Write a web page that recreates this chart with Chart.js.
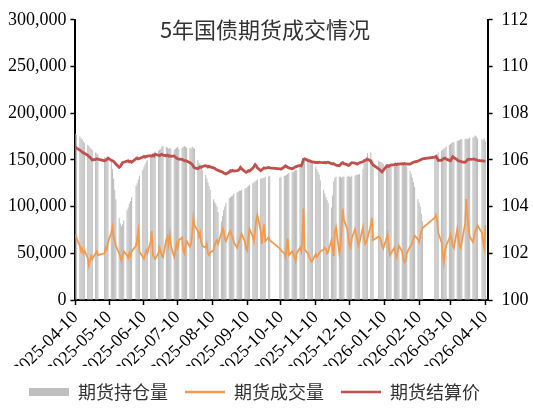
<!DOCTYPE html>
<html>
<head>
<meta charset="utf-8">
<script src="https://cdn.jsdelivr.net/npm/chart.js@4.4.1/dist/chart.umd.min.js"></script>
<style>
  html, body { margin: 0; padding: 0; background: #fff; }
  #wrap { width: 533px; height: 414px; position: relative; }
</style>
</head>
<body>
<div id="wrap"><canvas id="chart"></canvas></div>
<script>
const chartTitle = '5年国债期货成交情况';
const seriesNames = ['期货持仓量', '期货成交量', '期货结算价'];
const startDate = '2025-04-10';
const endDate = '2026-04-10';
const tickLabels = ['2025-04-10', '2025-05-10', '2025-06-10', '2025-07-10', '2025-08-10', '2025-09-10',
  '2025-10-10', '2025-11-10', '2025-12-10', '2026-01-10', '2026-02-10', '2026-03-10', '2026-04-10'];
// exchange closed on these weekdays
const holidays = ['2025-05-01', '2025-05-02', '2025-05-05', '2025-06-02',
  '2025-10-01', '2025-10-02', '2025-10-03', '2025-10-06', '2025-10-07', '2025-10-08',
  '2026-01-01', '2026-01-02', '2026-02-16', '2026-02-17', '2026-02-18', '2026-02-19', '2026-02-20',
  '2026-02-23', '2026-04-06'];

// one row per trading week
const openInterest = [
  178000, 177000,
  175000, 173000, 172000, 170000, 168000,
  166000, 165000, 163000, 162000, 161000,
  158000, 157000, 156000,
  153000, 152000, 152000, 151000,
  148000, 140000, 130000, 118000, 108000,
  88000, 82000, 79000, 81000, 85000,
  96000, 99000, 103000, 106000, 110000,
  122000, 125000, 129000, 133000,
  139000, 142000, 145000, 148000, 150000,
  154000, 155000, 157000, 158000, 159000,
  160000, 161000, 162000, 164000, 165000,
  164000, 163000, 162000, 163000, 162000,
  161000, 162000, 163000, 164000, 162000,
  163000, 164000, 165000, 164000, 163000,
  163000, 162000, 164000, 163000, 162000,
  150000, 147000, 145000, 142000, 139000,
  134000, 130000, 126000, 122000, 118000,
  108000, 105000, 103000, 100000, 94000,
  84000, 90000, 96000, 100000, 104000,
  109000, 110000, 111000, 112000, 114000,
  115000, 116000, 117000, 117000, 118000,
  119000, 120000, 121000, 122000, 123000,
  125000, 126000, 127000, 128000, 129000,
  130000, 130000, 131000, 131000, 132000,
  132000, 133000,
  131000, 132000,
  133000, 133000, 134000, 135000, 136000,
  137000, 137000, 138000, 139000, 139000,
  143000, 145000, 147000, 148000, 149000,
  150000, 151000, 151000, 150000, 148000,
  143000, 140000, 137000, 134000, 128000,
  118000, 114000, 110000, 107000, 104000,
  99000, 112000, 127000, 131000, 132000,
  132000, 132000, 131000, 132000, 132000,
  132000, 133000, 132000, 132000, 133000,
  133000, 134000, 134000, 134000, 135000,
  140000, 147000, 150000, 153000, 157000,
  158000, 151000, 149000,
  149000, 148000, 148000, 147000, 146000,
  146000, 145000, 145000, 146000, 146000,
  145000, 146000, 145000, 146000, 145000,
  145000, 145000, 144000, 144000, 143000,
  138000, 135000, 131000, 126000, 121000,
  108000, 104000, 100000, 92000, 84000,
  152000, 154000, 156000, 158000,
  160000, 161000, 162000, 163000, 164000,
  166000, 167000, 168000, 169000, 169000,
  170000, 171000, 171000, 172000, 172000,
  172000, 173000, 172000, 173000, 174000,
  174000, 175000, 176000, 175000, 173000,
  172000, 171000, 173000, 170000
];

const volume = [
  70000, 66000,
  58000, 52000, 55000, 50000, 53000,
  45000, 37000, 42000, 47000, 44000,
  50000, 52000, 48000,
  50000, 56000, 54000, 62000,
  72000, 78000, 68000, 64000, 58000,
  50000, 46000, 42000, 47000, 52000,
  48000, 45000, 50000, 47000, 52000,
  58000, 66000, 74000, 52000,
  46000, 44000, 48000, 53000, 50000,
  62000, 74000, 48000, 46000, 44000,
  50000, 56000, 52000, 47000, 46000,
  65000, 68000, 60000, 70000, 58000,
  46000, 52000, 60000, 56000, 64000,
  67000, 53000, 50000, 58000, 63000,
  57000, 60000, 72000, 88000, 80000,
  74000, 68000, 72000, 62000, 58000,
  56000, 60000, 50000, 48000, 51000,
  53000, 58000, 62000, 64000, 60000,
  72000, 77000, 74000, 66000, 63000,
  72000, 74000, 70000, 67000, 62000,
  56000, 60000, 64000, 67000, 71000,
  62000, 55000, 53000, 66000, 76000,
  68000, 63000, 75000, 86000, 91000,
  74000, 60000, 72000, 81000, 63000,
  67000, 64000,
  55000, 53000,
  50000, 46000, 56000, 66000, 48000,
  52000, 49000, 46000, 42000, 50000,
  56000, 52000, 64000, 98000, 54000,
  50000, 47000, 44000, 41000, 42000,
  49000, 46000, 48000, 50000, 52000,
  54000, 56000, 55000, 50000, 52000,
  64000, 56000, 47000, 74000, 78000,
  50000, 58000, 75000, 98000, 86000,
  76000, 66000, 58000, 56000, 66000,
  76000, 70000, 64000, 58000, 62000,
  78000, 66000, 60000, 62000, 66000,
  80000, 88000, 64000,
  68000, 67000, 64000, 58000, 55000,
  66000, 70000, 58000, 48000, 50000,
  56000, 50000, 46000, 52000, 58000,
  52000, 43000, 40000, 42000, 50000,
  57000, 59000, 62000, 66000, 69000,
  65000, 62000, 68000, 74000, 77000,
  88000, 91000, 86000, 72000,
  62000, 50000, 40000, 52000, 58000,
  66000, 70000, 64000, 58000, 56000,
  76000, 66000, 58000, 56000, 62000,
  82000, 108000, 90000, 78000, 68000,
  62000, 68000, 74000, 77000, 80000,
  72000, 62000, 56000, 80000
];

const settlePrice = [
  106.55, 106.50,
  106.42, 106.38, 106.34, 106.30, 106.28,
  106.20, 106.14, 106.12, 106.05, 106.00,
  106.02, 106.05, 106.03,
  105.96, 105.98, 106.02, 106.08,
  105.98, 105.96, 105.94, 105.88, 105.82,
  105.68, 105.72, 105.80, 105.88, 105.90,
  105.95, 105.96, 105.92, 105.94, 105.90,
  106.05, 106.08, 106.04, 106.06,
  106.12, 106.15, 106.12, 106.14, 106.16,
  106.18, 106.16, 106.20, 106.17, 106.24,
  106.20, 106.18, 106.22, 106.24, 106.20,
  106.18, 106.20, 106.16, 106.18, 106.15,
  106.17, 106.12, 106.08, 106.05, 106.03,
  106.02, 106.00, 105.96, 105.97, 105.95,
  105.88, 105.85, 105.80, 105.72, 105.66,
  105.62, 105.66, 105.70, 105.68, 105.72,
  105.75, 105.74, 105.70, 105.73, 105.70,
  105.66, 105.64, 105.60, 105.58, 105.55,
  105.50, 105.48, 105.44, 105.42, 105.40,
  105.48, 105.54, 105.52, 105.55, 105.52,
  105.54, 105.56, 105.60, 105.68, 105.62,
  105.50, 105.47, 105.50, 105.54, 105.52,
  105.65, 105.72, 105.80, 105.75, 105.66,
  105.54, 105.58, 105.62, 105.66, 105.64,
  105.68, 105.66,
  105.62, 105.60,
  105.70, 105.75, 105.72, 105.68, 105.66,
  105.62, 105.64, 105.68, 105.70, 105.72,
  105.76, 105.74, 105.85, 106.02, 106.05,
  105.98, 105.96, 105.95, 105.93, 105.92,
  105.89, 105.90, 105.88, 105.90, 105.89,
  105.88, 105.90, 105.87, 105.89, 105.90,
  105.84, 105.82, 105.84, 105.80, 105.78,
  105.75, 105.80, 105.86, 105.88, 105.84,
  105.80, 105.76, 105.78, 105.84, 105.88,
  105.86, 105.84, 105.82, 105.85, 105.88,
  105.92, 105.96, 105.98, 106.00, 106.03,
  105.95, 105.84, 105.78,
  105.62, 105.58, 105.52, 105.48, 105.55,
  105.72, 105.75, 105.72, 105.76, 105.78,
  105.80, 105.82, 105.80, 105.83, 105.82,
  105.84, 105.82, 105.84, 105.82, 105.83,
  105.82, 105.84, 105.88, 105.90, 105.92,
  105.95, 105.97, 106.00, 106.02, 106.04,
  106.12, 106.15, 106.08, 105.98,
  105.98, 106.02, 106.06, 106.08, 106.04,
  105.98, 105.96, 106.05, 106.14, 106.10,
  106.00, 105.96, 105.95, 105.94, 105.92,
  105.90, 105.94, 106.00, 106.03, 106.02,
  106.03, 106.04, 106.02, 106.00, 105.98,
  105.96, 105.96, 105.95, 105.94
];

const toUTC = s => Date.UTC(+s.slice(0, 4), +s.slice(5, 7) - 1, +s.slice(8, 10));
const dayIndex = s => Math.round((toUTC(s) - toUTC(startDate)) / 86400000);

// trading days as day offsets from startDate
const tradingDays = [];
for (let d = 0; d <= dayIndex(endDate); d++) {
  const dt = new Date(toUTC(startDate) + d * 86400000);
  const wd = dt.getUTCDay();
  const iso = dt.toISOString().slice(0, 10);
  if (wd === 0 || wd === 6 || holidays.includes(iso)) continue;
  tradingDays.push(d);
}
const toPoints = arr => tradingDays.map((d, i) => ({ x: d, y: arr[i] }));

const tickFont = { family: '"Liberation Serif", "Times New Roman", serif', size: 18 };
const axisGrid = { display: true, drawOnChartArea: false, drawTicks: true, tickLength: 5, tickColor: '#000', tickWidth: 1.5, offset: false };
const axisBorder = { display: true, color: '#000', width: 2 };

const titlePlugin = {
  id: 'chartTitle',
  afterLayout(chart) {
    // legend sits a little left of centre in the original
    chart.legend.left -= 12;
    chart.legend.right -= 12;
  },
  afterDraw(chart) {
    const ctx = chart.ctx;
    ctx.save();
    ctx.font = '22px "Noto Sans CJK SC", sans-serif';
    ctx.fillStyle = '#333';
    ctx.textAlign = 'center';
    ctx.textBaseline = 'middle';
    ctx.fillText(chartTitle, 265, 30);
    ctx.restore();
  }
};

new Chart(document.getElementById('chart'), {
  type: 'bar',
  data: {
    datasets: [
      {
        type: 'bar',
        label: seriesNames[0],
        data: toPoints(openInterest),
        backgroundColor: '#BFBFBF',
        barThickness: 1.1,
        inflateAmount: 0,
        yAxisID: 'y',
        order: 3
      },
      {
        type: 'line',
        label: seriesNames[1],
        data: toPoints(volume),
        borderColor: '#F59A4C',
        borderWidth: 1.8,
        pointRadius: 0,
        tension: 0,
        yAxisID: 'y',
        order: 2
      },
      {
        type: 'line',
        label: seriesNames[2],
        data: toPoints(settlePrice),
        borderColor: '#C0504D',
        borderWidth: 2.8,
        pointRadius: 0,
        tension: 0,
        yAxisID: 'y1',
        order: 1
      }
    ]
  },
  options: {
    responsive: true,
    maintainAspectRatio: false,
    animation: false,
    layout: { padding: { top: 14, bottom: 3, left: 0, right: 0 } },
    scales: {
      x: {
        type: 'linear',
        min: 0,
        max: 367,
        offset: false,
        afterBuildTicks: s => { s.ticks = tickLabels.map(t => ({ value: dayIndex(t) })); },
        afterFit: s => { s.height = 66; },
        ticks: {
          autoSkip: false, minRotation: 45, maxRotation: 45, padding: 2,
          color: '#000', font: tickFont,
          callback: (v, i) => tickLabels[i]
        },
        grid: axisGrid,
        border: axisBorder
      },
      y: {
        position: 'left',
        min: 0,
        max: 300000,
        afterFit: s => { s.width = 75.4; },
        ticks: { stepSize: 50000, padding: 4, color: '#000', font: tickFont, callback: v => v.toLocaleString('en-US') },
        grid: axisGrid,
        border: axisBorder
      },
      y1: {
        position: 'right',
        min: 100,
        max: 112,
        afterFit: s => { s.width = 45.4; },
        ticks: { stepSize: 2, padding: 9, color: '#000', font: tickFont },
        grid: axisGrid,
        border: axisBorder
      }
    },
    plugins: {
      tooltip: { enabled: false },
      legend: {
        position: 'bottom',
        labels: {
          usePointStyle: true,
          pointStyleWidth: 40,
          boxHeight: 8,
          padding: 17,
          color: '#333',
          font: { family: '"Noto Sans CJK SC", sans-serif', size: 18 },
          generateLabels: chart => chart.data.datasets.map((ds, i) => ({
            text: ds.label,
            datasetIndex: i,
            pointStyle: ds.type === 'bar' ? 'rect' : 'line',
            fillStyle: ds.type === 'bar' ? ds.backgroundColor : ds.borderColor,
            strokeStyle: ds.type === 'bar' ? ds.backgroundColor : ds.borderColor,
            lineWidth: ds.type === 'bar' ? 0 : 2.5,
            fontColor: '#333',
            hidden: false
          }))
        }
      }
    }
  },
  plugins: [titlePlugin]
});
</script>
</body>
</html>
